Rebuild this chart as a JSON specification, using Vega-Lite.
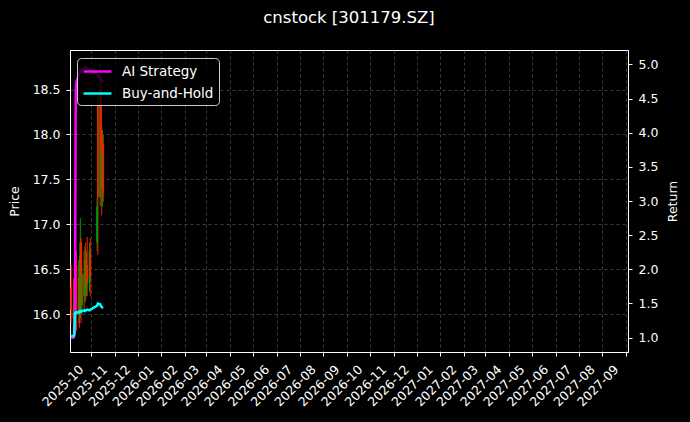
{
  "$schema": "https://vega.github.io/schema/vega-lite/v6.json",
  "background": "black",
  "autosize": {"type": "none"},
  "padding": {"left": 70, "top": 50, "right": 62, "bottom": 70},
  "width": 558,
  "height": 302,
  "title": {
    "text": "cnstock [301179.SZ]",
    "color": "white",
    "font": "DejaVu Sans",
    "fontSize": 16.5,
    "fontWeight": "normal",
    "anchor": "middle",
    "offset": 24
  },
  "datasets": {
    "px": [
      {"date": "2025-09-05", "open": 16.30, "high": 16.55, "low": 15.90, "close": 16.05},
      {"date": "2025-09-08", "open": 16.05, "high": 16.40, "low": 15.78, "close": 15.95},
      {"date": "2025-09-09", "open": 15.95, "high": 16.30, "low": 15.75, "close": 16.20},
      {"date": "2025-09-10", "open": 16.20, "high": 16.45, "low": 15.85, "close": 15.95},
      {"date": "2025-09-11", "open": 15.95, "high": 16.71, "low": 15.80, "close": 16.55},
      {"date": "2025-09-12", "open": 16.55, "high": 16.70, "low": 15.82, "close": 16.00},
      {"date": "2025-09-15", "open": 16.00, "high": 16.60, "low": 15.90, "close": 16.40},
      {"date": "2025-09-16", "open": 16.40, "high": 16.65, "low": 15.85, "close": 16.05},
      {"date": "2025-09-17", "open": 16.05, "high": 17.07, "low": 15.95, "close": 16.80},
      {"date": "2025-09-18", "open": 16.80, "high": 16.85, "low": 15.90, "close": 16.10},
      {"date": "2025-09-19", "open": 16.10, "high": 16.60, "low": 16.00, "close": 16.45},
      {"date": "2025-09-22", "open": 16.45, "high": 16.71, "low": 16.05, "close": 16.20},
      {"date": "2025-09-23", "open": 16.20, "high": 16.75, "low": 16.13, "close": 16.60},
      {"date": "2025-09-24", "open": 16.60, "high": 16.80, "low": 16.15, "close": 16.30},
      {"date": "2025-09-25", "open": 16.30, "high": 16.70, "low": 16.20, "close": 16.55},
      {"date": "2025-09-26", "open": 16.55, "high": 16.86, "low": 16.20, "close": 16.35},
      {"date": "2025-09-29", "open": 16.35, "high": 16.80, "low": 16.25, "close": 16.70},
      {"date": "2025-09-30", "open": 16.70, "high": 16.85, "low": 16.20, "close": 16.40},
      {"date": "2025-10-09", "open": 16.80, "high": 17.30, "low": 16.70, "close": 17.20},
      {"date": "2025-10-10", "open": 18.35, "high": 18.45, "low": 16.66, "close": 17.30},
      {"date": "2025-10-13", "open": 17.30, "high": 18.79, "low": 17.20, "close": 18.50},
      {"date": "2025-10-14", "open": 18.50, "high": 18.60, "low": 17.60, "close": 17.80},
      {"date": "2025-10-15", "open": 17.80, "high": 18.10, "low": 17.10, "close": 17.40},
      {"date": "2025-10-16", "open": 17.40, "high": 18.05, "low": 17.20, "close": 17.90},
      {"date": "2025-10-17", "open": 17.90, "high": 18.00, "low": 17.25, "close": 17.35}
    ],
    "ret": [
      {"date": "2025-09-05", "series": "AI Strategy", "value": 1.00},
      {"date": "2025-09-08", "series": "AI Strategy", "value": 1.00},
      {"date": "2025-09-09", "series": "AI Strategy", "value": 1.02},
      {"date": "2025-09-10", "series": "AI Strategy", "value": 1.08},
      {"date": "2025-09-11", "series": "AI Strategy", "value": 4.62},
      {"date": "2025-09-12", "series": "AI Strategy", "value": 4.75},
      {"date": "2025-09-15", "series": "AI Strategy", "value": 4.84},
      {"date": "2025-09-16", "series": "AI Strategy", "value": 4.88},
      {"date": "2025-09-17", "series": "AI Strategy", "value": 4.92},
      {"date": "2025-09-18", "series": "AI Strategy", "value": 4.90},
      {"date": "2025-09-19", "series": "AI Strategy", "value": 4.93},
      {"date": "2025-09-22", "series": "AI Strategy", "value": 4.94},
      {"date": "2025-09-23", "series": "AI Strategy", "value": 4.95},
      {"date": "2025-09-24", "series": "AI Strategy", "value": 4.94},
      {"date": "2025-09-25", "series": "AI Strategy", "value": 4.95},
      {"date": "2025-09-26", "series": "AI Strategy", "value": 4.93},
      {"date": "2025-09-29", "series": "AI Strategy", "value": 4.92},
      {"date": "2025-09-30", "series": "AI Strategy", "value": 4.90},
      {"date": "2025-10-09", "series": "AI Strategy", "value": 4.86},
      {"date": "2025-10-10", "series": "AI Strategy", "value": 4.82},
      {"date": "2025-10-13", "series": "AI Strategy", "value": 4.80},
      {"date": "2025-10-14", "series": "AI Strategy", "value": 4.78},
      {"date": "2025-10-15", "series": "AI Strategy", "value": 4.76},
      {"date": "2025-10-16", "series": "AI Strategy", "value": 4.75},
      {"date": "2025-10-17", "series": "AI Strategy", "value": 4.74},
      {"date": "2025-09-05", "series": "Buy-and-Hold", "value": 1.03},
      {"date": "2025-09-08", "series": "Buy-and-Hold", "value": 1.02},
      {"date": "2025-09-09", "series": "Buy-and-Hold", "value": 1.04},
      {"date": "2025-09-10", "series": "Buy-and-Hold", "value": 1.36},
      {"date": "2025-09-11", "series": "Buy-and-Hold", "value": 1.37},
      {"date": "2025-09-12", "series": "Buy-and-Hold", "value": 1.36},
      {"date": "2025-09-15", "series": "Buy-and-Hold", "value": 1.38},
      {"date": "2025-09-16", "series": "Buy-and-Hold", "value": 1.37},
      {"date": "2025-09-17", "series": "Buy-and-Hold", "value": 1.39},
      {"date": "2025-09-18", "series": "Buy-and-Hold", "value": 1.38},
      {"date": "2025-09-19", "series": "Buy-and-Hold", "value": 1.39},
      {"date": "2025-09-22", "series": "Buy-and-Hold", "value": 1.40},
      {"date": "2025-09-23", "series": "Buy-and-Hold", "value": 1.39},
      {"date": "2025-09-24", "series": "Buy-and-Hold", "value": 1.40},
      {"date": "2025-09-25", "series": "Buy-and-Hold", "value": 1.40},
      {"date": "2025-09-26", "series": "Buy-and-Hold", "value": 1.41},
      {"date": "2025-09-29", "series": "Buy-and-Hold", "value": 1.40},
      {"date": "2025-09-30", "series": "Buy-and-Hold", "value": 1.41},
      {"date": "2025-10-09", "series": "Buy-and-Hold", "value": 1.47},
      {"date": "2025-10-10", "series": "Buy-and-Hold", "value": 1.50},
      {"date": "2025-10-13", "series": "Buy-and-Hold", "value": 1.49},
      {"date": "2025-10-14", "series": "Buy-and-Hold", "value": 1.46},
      {"date": "2025-10-15", "series": "Buy-and-Hold", "value": 1.45},
      {"date": "2025-10-16", "series": "Buy-and-Hold", "value": 1.44},
      {"date": "2025-10-17", "series": "Buy-and-Hold", "value": 1.44}
    ]
  },
  "encoding": {
    "x": {
      "field": "date",
      "type": "temporal",
      "title": null,
      "scale": {
        "domain": [1756900800000, 1819980000000],
        "nice": false,
        "padding": 0
      },
      "axis": {
        "format": "%Y-%m",
        "tickCount": {"interval": "month", "step": 1},
        "labelAngle": -45,
        "labelAlign": "right",
        "labelBaseline": "bottom",
        "labelOverlap": false,
        "labelFlush": false,
        "labelPadding": 16,
        "labelOffset": -5,
        "grid": true
      }
    }
  },
  "layer": [
    {
      "data": {"name": "px"},
      "encoding": {
        "color": {
          "condition": {"test": "datum.close >= datum.open", "value": "#00a000"},
          "value": "#ff1a00"
        }
      },
      "layer": [
        {
          "mark": {"type": "rule", "strokeWidth": 1},
          "encoding": {
            "y": {
              "field": "low",
              "type": "quantitative",
              "title": "Price",
              "scale": {"domain": [15.58, 18.94], "nice": false, "zero": false},
              "axis": {
                "orient": "left",
                "values": [16, 16.5, 17, 17.5, 18, 18.5],
                "format": ".1f",
                "labelPadding": 6,
                "titlePadding": 11
              }
            },
            "y2": {"field": "high"}
          }
        },
        {
          "mark": {"type": "bar", "size": 1.8},
          "encoding": {
            "y": {"field": "open", "type": "quantitative"},
            "y2": {"field": "close"}
          }
        }
      ]
    },
    {
      "data": {"name": "ret"},
      "mark": {"type": "line", "strokeWidth": 2.5},
      "encoding": {
        "y": {
          "field": "value",
          "type": "quantitative",
          "title": "Return",
          "scale": {"domain": [0.79, 5.21], "nice": false, "zero": false},
          "axis": {
            "orient": "right",
            "values": [1, 1.5, 2, 2.5, 3, 3.5, 4, 4.5, 5],
            "format": ".1f",
            "labelPadding": 6,
            "titlePadding": 9,
            "titleAngle": 270,
            "titleBaseline": "top"
          }
        },
        "color": {
          "field": "series",
          "type": "nominal",
          "scale": {"domain": ["AI Strategy", "Buy-and-Hold"], "range": ["#ff00ff", "#00ffff"]},
          "legend": {
            "title": null,
            "orient": "none",
            "legendX": 7,
            "legendY": 8,
            "symbolType": "M-1,0H3",
            "symbolSize": 196,
            "symbolStrokeWidth": 2.5,
            "labelOffset": 23,
            "labelFontSize": 13.5,
            "rowPadding": 7,
            "padding": 5,
            "fillColor": "rgba(0,0,0,0.8)",
            "strokeColor": "#cccccc",
            "cornerRadius": 4
          }
        }
      }
    }
  ],
  "resolve": {"scale": {"y": "independent"}},
  "config": {
    "font": "DejaVu Sans",
    "view": {"stroke": "white", "strokeWidth": 1},
    "axis": {
      "labelColor": "white",
      "labelFontSize": 12.5,
      "titleColor": "white",
      "titleFontSize": 12.5,
      "titleFontWeight": "normal",
      "tickColor": "white",
      "tickSize": 4,
      "domainColor": "white",
      "gridColor": "#666666",
      "gridDash": [3, 3],
      "gridWidth": 0.6,
      "grid": true
    },
    "legend": {
      "labelColor": "white",
      "labelFontSize": 12.5,
      "labelFont": "DejaVu Sans"
    }
  }
}
